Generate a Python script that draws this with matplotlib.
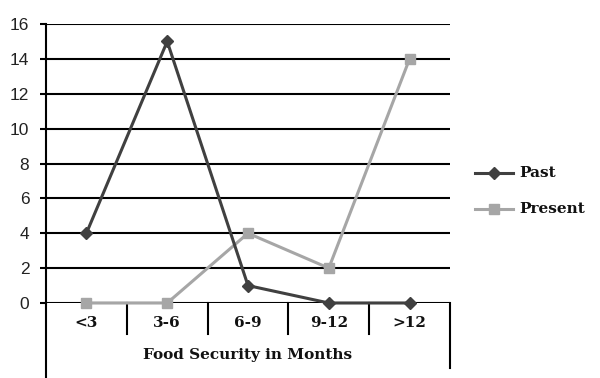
import matplotlib
matplotlib.use("Agg")
import matplotlib.pyplot as plt
from matplotlib.lines import Line2D

categories = ["<3", "3-6", "6-9", "9-12", ">12"]
past = [4, 15, 1, 0, 0]
present = [0, 0, 4, 2, 14]
yticks = [0, 2, 4, 6, 8, 10, 12, 14, 16]

W, H = 600, 378
fig = plt.figure(figsize=(W / 100, H / 100), dpi=100)
L, R, B, T = 46, 450, 303, 24
ax = fig.add_axes([L / W, 1 - B / H, (R - L) / W, (B - T) / H])

x = list(range(len(categories)))
ax.set_xlim(-0.5, len(categories) - 0.5)
ax.set_ylim(0, 16)

for v in yticks:
    ax.axhline(v, color="black", lw=1.5, zorder=1)

ax.plot(x, present, color="#a6a6a6", lw=2.2, marker="s", ms=6.5, zorder=3, clip_on=False)
ax.plot(x, past, color="#404040", lw=2.2, marker="D", ms=6.5, zorder=4, clip_on=False)

for s in ["top", "right", "bottom"]:
    ax.spines[s].set_visible(False)
ax.spines["left"].set_linewidth(1.5)
ax.set_yticks(yticks)
ax.set_yticklabels([str(v) for v in yticks], fontfamily="Liberation Sans", fontsize=12.5, color="#222222")
ax.tick_params(axis="y", length=4, width=1.5, pad=8)
ax.set_xticks([])

ah = B - T
def ay(py):
    return (B - py) / ah

# left axis extension
ax.add_line(Line2D([0, 0], [0, ay(378)], transform=ax.transAxes, color="black", lw=1.5, clip_on=False))
# right boundary
ax.add_line(Line2D([1, 1], [0, ay(368)], transform=ax.transAxes, color="black", lw=1.5, clip_on=False))
# category dividers
for i in range(1, len(categories)):
    xf = i / len(categories)
    ax.add_line(Line2D([xf, xf], [0, ay(334)], transform=ax.transAxes, color="black", lw=1.5, clip_on=False))

serif = dict(fontfamily="DejaVu Serif", fontweight="bold", color="#111111")
for i, c in enumerate(categories):
    ax.text((i + 0.5) / len(categories), ay(323), c, transform=ax.transAxes,
            ha="center", va="center", fontsize=11, **serif)
ax.text(0.5, ay(355), "Food Security in Months", transform=ax.transAxes,
        ha="center", va="center", fontsize=11, **serif)

# legend
for py, col, mk, lab in [(173, "#404040", "D", "Past"), (209, "#a6a6a6", "s", "Present")]:
    yf = 1 - py / H
    fig.add_artist(Line2D([475 / W, 513 / W], [yf, yf], color=col, lw=2.2))
    fig.add_artist(Line2D([494 / W], [yf], color=col, marker=mk, ms=6.5, lw=0))
    fig.text(519 / W, yf, lab, ha="left", va="center", fontsize=11, **serif)

fig.savefig("out.png", dpi=100)
